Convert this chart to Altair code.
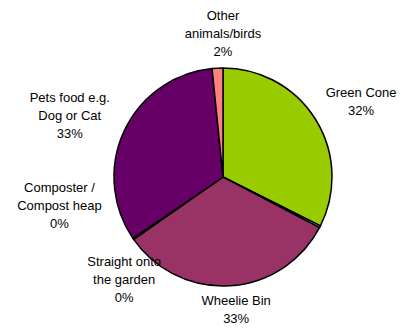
import math
import altair as alt
import pandas as pd

# ---- data ----
categories = [
    "Green Cone",
    "Unlabelled",
    "Wheelie Bin",
    "Straight onto the garden",
    "Composter / Compost heap",
    "Pets food e.g. Dog or Cat",
    "Other animals/birds",
]
values = [32.4, 0.3, 32.6, 0.1, 0.1, 32.9, 1.6]
label_lines = [
    ["Green Cone"],
    [],
    ["Wheelie Bin"],
    ["Straight onto", "the garden"],
    ["Composter /", "Compost heap"],
    ["Pets food e.g.", "Dog or Cat"],
    ["Other", "animals/birds"],
]
colors = ["#99CC00", "#CCCCFF", "#993366", "#FFFFCC", "#CCFFFF", "#660066", "#FF8080"]

df = pd.DataFrame({"category": categories, "value": values, "order": range(len(categories))})
df["cum"] = df["value"].cumsum()
df["mid"] = df["cum"] - df["value"] / 2
df["label"] = [
    "\n".join(lines + [f"{round(v):d}%"]) if lines else ""
    for lines, v in zip(label_lines, values)
]

CX, CY = 215, 160
R = 109
FONT = "Liberation Sans"
LH = 18

theta_scale = alt.Scale(domain=[0, 100], range=[0, 2 * math.pi])

pie = alt.Chart(df).mark_arc(
    outerRadius=R, stroke="black", strokeWidth=1.5, strokeJoin="round"
).encode(
    theta=alt.Theta("value:Q", stack=True, scale=theta_scale),
    color=alt.Color("category:N", scale=alt.Scale(domain=categories, range=colors), legend=None),
    order=alt.Order("order:Q"),
    x=alt.value(CX),
    y=alt.value(CY),
)


def label_layer(cat, radius, shift_pct=0.0, dy=0):
    return alt.Chart(df).transform_filter(
        alt.datum.category == cat
    ).transform_calculate(
        pos=f"datum.mid + {shift_pct}"
    ).mark_text(
        radius=radius, font=FONT, fontSize=13, lineBreak="\n", lineHeight=LH,
        align="center", baseline="middle", color="black", dy=dy
    ).encode(
        theta=alt.Theta("pos:Q", stack=False, scale=theta_scale),
        text="label:N",
        x=alt.value(CX),
        y=alt.value(CY),
    )


labels = [
    label_layer("Green Cone", 157, 0.9, -LH / 2),
    label_layer("Wheelie Bin", 131, -0.6, -6),
    label_layer("Straight onto the garden", 143, -3.2, -LH),
    label_layer("Composter / Compost heap", 166, 6.8, -LH),
    label_layer("Pets food e.g. Dog or Cat", 165, -0.9, -LH),
    label_layer("Other animals/birds", 143, 0.8, -LH),
]

chart = alt.layer(pie, *labels).properties(
    width=390, height=300,
    padding={"top": 2, "left": 0, "right": 0, "bottom": 0},
).configure_view(stroke=None)

chart.save("out.html", embed_options={"renderer": "svg", "actions": False})
